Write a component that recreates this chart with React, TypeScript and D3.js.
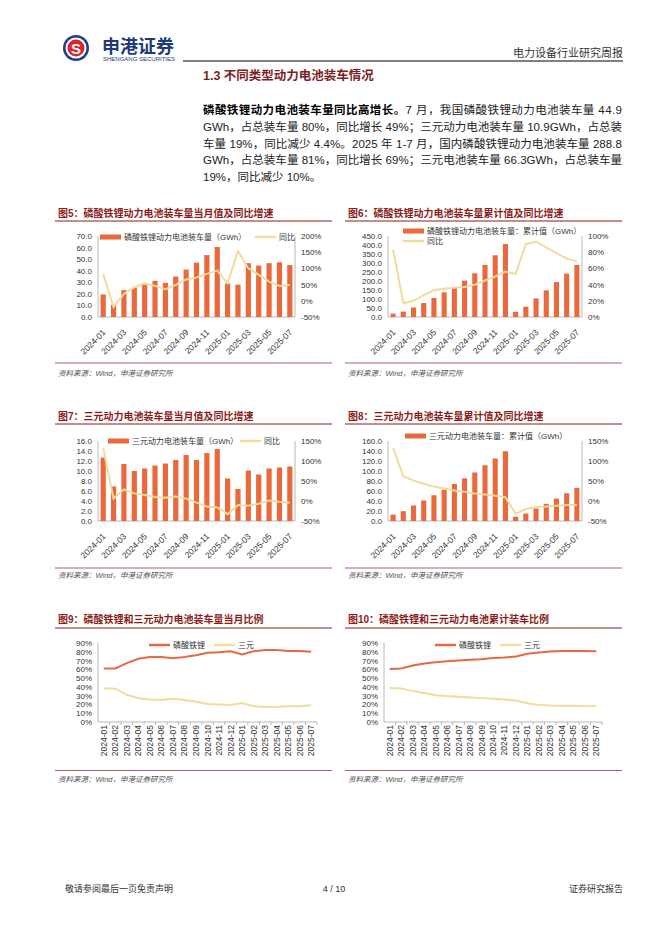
import React from 'react';
import * as d3 from 'd3';

const months = ['2024-01','2024-02','2024-03','2024-04','2024-05','2024-06','2024-07','2024-08','2024-09','2024-10','2024-11','2024-12','2025-01','2025-02','2025-03','2025-04','2025-05','2025-06','2025-07'];

const lfpMonthly = [19.5,10.4,23.2,25.5,28.0,31.3,29.5,35.0,41.0,47.0,53.5,60.5,29.0,28.0,46.5,44.5,46.5,47.3,44.9];
const lfpMonthlyYoy = [83,-19,21,42,54,46,36,49,66,72,83,93,54,154,100,80,59,46,49];
const lfpCum = [19,30,53,78,106,137,167,202,243,289,343,405,29,57,103,148,194,241,288.8];
const lfpCumYoy = [83,17,20,27,33,35,36,37,40,45,50,56,53,90,93,86,79,72,69];

const ncmMonthly = [12.7,6.9,11.4,10.0,10.5,11.1,11.5,12.2,13.2,12.2,13.6,14.4,8.5,6.4,10.1,9.3,10.5,10.7,10.9];
const ncmMonthlyYoy = [133,6,29,19,15,10,8,11,6,-4,-14,-16,-33,-10,-12,-7,1,-2,-4.4];
const ncmCum = [12.7,19.6,31,41,51.5,62.6,74,85.5,97,111.5,125,139.5,8.5,14.9,25,34.3,44.8,55.5,66.3];
const ncmCumYoy = [133,62,51,43,36,31,26,23,19,16,13,9.5,-32,-20,-15,-14,-12,-10,-10];

const lfpShareMonthly = [61,61,67,72,74,74,72.5,74,76,79,79.5,80.5,77,80.5,82,82,81,81,80];
const ncmShareMonthly = [38.5,38,31,27,25.5,25,26.5,25,23,20.5,20,19.4,21.5,18,17,17,18,18,19];
const lfpShareCum = [60.5,61,64.3,66.6,68,69.3,70,70.8,71.6,72.8,73.5,74.7,77.7,79.3,80.4,80.8,80.8,80.8,80.5];
const ncmShareCum = [38.7,38.3,35.2,33,30.6,29.5,28.7,28,27.2,26.4,25.7,24.5,21.4,19.5,18.8,18.4,18.4,18,18.4];

const ticksLfpMonthly = [0,10,20,30,40,50,60,70];
const ticksYoyA = [-50,0,50,100,150,200];
const ticksLfpCum = [0,50,100,150,200,250,300,350,400,450];
const ticksYoyB = [0,20,40,60,80,100];
const ticksNcmMonthly = [0,2,4,6,8,10,12,14,16];
const ticksYoyC = [-50,0,50,100,150];
const ticksNcmCum = [0,20,40,60,80,100,120,140,160];
const ticksShare = [0,10,20,30,40,50,60,70,80,90];

const FONT = '"Liberation Sans", Arial, "Noto Sans CJK SC", sans-serif';
const BAR = '#E9693C';
const YEL = '#F0DC9C';
const RED_LINE = '#E46A45';
const TITLE = '#8A1D1A';
const AXIS = '#A6A6A6';
const TXT = '#333333';

type LegendItem = { kind: 'bar' | 'line'; x: number; y: number; label: string; color: string };

function Legend({ items }: { items: LegendItem[] }) {
  return (
    <g>
      {items.map((it, i) => (
        <g key={i}>
          {it.kind === 'bar'
            ? <rect x={it.x} y={it.y - 2.5} width={21} height={5} fill={it.color} />
            : <line x1={it.x} x2={it.x + 21} y1={it.y} y2={it.y} stroke={it.color} strokeWidth={2.5} />}
          <text x={it.x + 24} y={it.y + 3} fontSize={8} fill={TXT}>{it.label}</text>
        </g>
      ))}
    </g>
  );
}

function Frame({ x, w, titleY, lineY, srcLineY, srcY, title }: any) {
  return (
    <g>
      <text x={x + 3} y={titleY} fontSize={10} fontWeight="bold" fill={TITLE}>{title}</text>
      <line x1={x} x2={x + w} y1={lineY} y2={lineY} stroke={TITLE} strokeWidth={1} />
      <line x1={x} x2={x + w} y1={srcLineY} y2={srcLineY} stroke={TITLE} strokeWidth={0.7} />
      <text x={x + 3} y={srcY} fontSize={7.5} fontStyle="italic" fill="#555">资料来源：Wind，申港证券研究所</text>
    </g>
  );
}

function ComboChart({ x0, x1, top, bottom, bars, yoy, leftTicks, leftFmt, rightTicks, legend }: any) {
  const x = d3.scaleBand<string>().domain(months).range([x0, x1]).paddingInner(0.5).paddingOuter(0.25);
  const yL = d3.scaleLinear().domain([leftTicks[0], leftTicks[leftTicks.length - 1]]).range([bottom, top]);
  const yR = d3.scaleLinear().domain([rightTicks[0], rightTicks[rightTicks.length - 1]]).range([bottom, top]);
  const cx = (m: string) => (x(m) as number) + x.bandwidth() / 2;
  const path = d3.line<number>().x((_, i) => cx(months[i])).y((d) => yR(d))(yoy) || '';
  return (
    <g>
      <line x1={x0} x2={x0} y1={top} y2={bottom} stroke={AXIS} strokeWidth={0.8} />
      <line x1={x1} x2={x1} y1={top} y2={bottom} stroke={AXIS} strokeWidth={0.8} />
      <line x1={x0} x2={x1} y1={yL(0)} y2={yL(0)} stroke={AXIS} strokeWidth={0.8} />
      {leftTicks.map((t: number) => (
        <text key={'l' + t} x={x0 - 6} y={yL(t) + 3} textAnchor="end" fontSize={8} fill={TXT}>{leftFmt(t)}</text>
      ))}
      {rightTicks.map((t: number) => (
        <text key={'r' + t} x={x1 + 6} y={yR(t) + 3} fontSize={8} fill={TXT}>{t + '%'}</text>
      ))}
      {bars.map((v: number, i: number) => (
        <rect key={'b' + i} x={x(months[i])} y={yL(v)} width={x.bandwidth()} height={yL(0) - yL(v)} fill={BAR} />
      ))}
      <path d={path} fill="none" stroke={YEL} strokeWidth={2} />
      {months.map((m, i) => i % 2 === 0 ? (
        <text key={'x' + m} transform={`translate(${cx(m) + 3},${bottom + 16}) rotate(-45)`} textAnchor="end" fontSize={8.5} fill={TXT}>{m}</text>
      ) : null)}
      <Legend items={legend} />
    </g>
  );
}

function ShareChart({ x0, x1, top, bottom, lfp, ncm, legend }: any) {
  const x = d3.scaleBand<string>().domain(months).range([x0, x1]);
  const y = d3.scaleLinear().domain([0, 90]).range([bottom, top]);
  const cx = (m: string) => (x(m) as number) + x.bandwidth() / 2;
  const line = d3.line<number>().x((_, i) => cx(months[i])).y((d) => y(d));
  return (
    <g>
      <line x1={x0} x2={x0} y1={top} y2={bottom} stroke={AXIS} strokeWidth={0.8} />
      <line x1={x0} x2={x1} y1={bottom} y2={bottom} stroke={AXIS} strokeWidth={0.8} />
      {months.map((m) => (
        <line key={'t' + m} x1={(x(m) as number) + x.bandwidth()} x2={(x(m) as number) + x.bandwidth()} y1={bottom} y2={bottom + 3} stroke={AXIS} strokeWidth={0.8} />
      ))}
      {ticksShare.map((t) => (
        <text key={'l' + t} x={x0 - 6} y={y(t) + 3} textAnchor="end" fontSize={8} fill={TXT}>{t + '%'}</text>
      ))}
      <path d={line(ncm) || ''} fill="none" stroke={YEL} strokeWidth={2} />
      <path d={line(lfp) || ''} fill="none" stroke={RED_LINE} strokeWidth={2} />
      {months.map((m) => (
        <text key={'x' + m} transform={`translate(${cx(m) + 3},${bottom + 3}) rotate(-90)`} textAnchor="end" fontSize={8.5} fill={TXT}>{m}</text>
      ))}
      <Legend items={legend} />
    </g>
  );
}

const f1 = (t: number) => t.toFixed(1);

export default function App() {
  const paraX = 203;
  const paraW = 419;
  return (
    <svg width={662} height={936} style={{ position: 'absolute', left: 0, top: 0, background: '#fff' }} fontFamily={FONT}>
      <rect x={0} y={0} width={662} height={936} fill="#fff" />
      {/* header */}
      <circle cx={76} cy={48} r={13} fill="#1F3E8C" />
      <circle cx={76} cy={48} r={10.5} fill="#fff" />
      <circle cx={76} cy={48} r={8.5} fill="#D7262E" />
      <text x={76} y={53.5} textAnchor="middle" fontSize={15} fontWeight="bold" fill="#fff">S</text>
      <text x={102} y={53} fontSize={18} fontWeight="bold" fill="#1F3A7A">申港证券</text>
      <text x={103} y={61} fontSize={5.5} fill="#1F3A7A" textLength={72} lengthAdjust="spacingAndGlyphs">SHENGANG SECURITIES</text>
      <line x1={183} x2={623} y1={61} y2={61} stroke="#000" strokeWidth={1} />
      <text x={623} y={57} textAnchor="end" fontSize={11} fill={TXT}>电力设备行业研究周报</text>

      <text x={203} y={80} fontSize={12.5} fontWeight="bold" fill="#7B1F1F">1.3 不同类型动力电池装车情况</text>

      <g fontSize={11.5} fill="#222">
        <text x={paraX} y={114} textLength={paraW} lengthAdjust="spacing">
          <tspan fontWeight="bold" fill="#000">磷酸铁锂动力电池装车量同比高增长。</tspan>
          <tspan>7 月，我国磷酸铁锂动力电池装车量 44.9</tspan>
        </text>
        <text x={paraX} y={131} textLength={paraW} lengthAdjust="spacing">GWh，占总装车量 80%，同比增长 49%；三元动力电池装车量 10.9GWh，占总装</text>
        <text x={paraX} y={147.5} textLength={paraW} lengthAdjust="spacing">车量 19%，同比减少 4.4%。2025 年 1-7 月，国内磷酸铁锂动力电池装车量 288.8</text>
        <text x={paraX} y={164} textLength={paraW} lengthAdjust="spacing">GWh，占总装车量 81%，同比增长 69%；三元电池装车量 66.3GWh，占总装车量</text>
        <text x={paraX} y={181}>19%，同比减少 10%。</text>
      </g>

      {/* Fig 5 */}
      <Frame x={55} w={277} titleY={217} lineY={221} srcLineY={363} srcY={376} title="图5：磷酸铁锂动力电池装车量当月值及同比增速" />
      <ComboChart x0={98} x1={295} top={236} bottom={317} bars={lfpMonthly} yoy={lfpMonthlyYoy}
        leftTicks={ticksLfpMonthly} leftFmt={f1} rightTicks={ticksYoyA}
        legend={[
          { kind: 'bar', x: 100, y: 237, label: '磷酸铁锂动力电池装车量（GWh）', color: BAR },
          { kind: 'line', x: 255, y: 237, label: '同比', color: YEL },
        ]} />

      {/* Fig 6 */}
      <Frame x={345} w={277} titleY={217} lineY={221} srcLineY={363} srcY={376} title="图6：磷酸铁锂动力电池装车量累计值及同比增速" />
      <ComboChart x0={388} x1={582} top={236} bottom={317} bars={lfpCum} yoy={lfpCumYoy}
        leftTicks={ticksLfpCum} leftFmt={f1} rightTicks={ticksYoyB}
        legend={[
          { kind: 'bar', x: 403, y: 231, label: '磷酸铁锂动力电池装车量：累计值（GWh）', color: BAR },
          { kind: 'line', x: 403, y: 241, label: '同比', color: YEL },
        ]} />

      {/* Fig 7 */}
      <Frame x={55} w={277} titleY={420} lineY={424} srcLineY={568} srcY={578} title="图7：三元动力电池装车量当月值及同比增速" />
      <ComboChart x0={98} x1={295} top={441} bottom={521} bars={ncmMonthly} yoy={ncmMonthlyYoy}
        leftTicks={ticksNcmMonthly} leftFmt={f1} rightTicks={ticksYoyC}
        legend={[
          { kind: 'bar', x: 108, y: 441, label: '三元动力电池装车量（GWh）', color: BAR },
          { kind: 'line', x: 240, y: 441, label: '同比', color: YEL },
        ]} />

      {/* Fig 8 */}
      <Frame x={345} w={277} titleY={420} lineY={424} srcLineY={568} srcY={578} title="图8：三元动力电池装车量累计值及同比增速" />
      <ComboChart x0={388} x1={582} top={441} bottom={521} bars={ncmCum} yoy={ncmCumYoy}
        leftTicks={ticksNcmCum} leftFmt={f1} rightTicks={ticksYoyC}
        legend={[
          { kind: 'bar', x: 405, y: 436, label: '三元动力电池装车量：累计值（GWh）', color: BAR },
        ]} />

      {/* Fig 9 */}
      <Frame x={55} w={277} titleY={623} lineY={628} srcLineY={770.5} srcY={782} title="图9：磷酸铁锂和三元动力电池装车量当月比例" />
      <ShareChart x0={98} x1={317} top={643} bottom={722} lfp={lfpShareMonthly} ncm={ncmShareMonthly}
        legend={[
          { kind: 'line', x: 149, y: 645, label: '磷酸铁锂', color: RED_LINE },
          { kind: 'line', x: 214, y: 645, label: '三元', color: YEL },
        ]} />

      {/* Fig 10 */}
      <Frame x={345} w={277} titleY={623} lineY={628} srcLineY={770.5} srcY={782} title="图10：磷酸铁锂和三元动力电池累计装车比例" />
      <ShareChart x0={384} x1={602} top={643} bottom={722} lfp={lfpShareCum} ncm={ncmShareCum}
        legend={[
          { kind: 'line', x: 435, y: 645, label: '磷酸铁锂', color: RED_LINE },
          { kind: 'line', x: 500, y: 645, label: '三元', color: YEL },
        ]} />

      {/* footer */}
      <text x={65} y={892} fontSize={9} fill={TXT}>敬请参阅最后一页免责声明</text>
      <text x={334} y={892} textAnchor="middle" fontSize={9} fill={TXT}>4 / 10</text>
      <text x={623} y={892} textAnchor="end" fontSize={9} fill={TXT}>证券研究报告</text>
    </svg>
  );
}
